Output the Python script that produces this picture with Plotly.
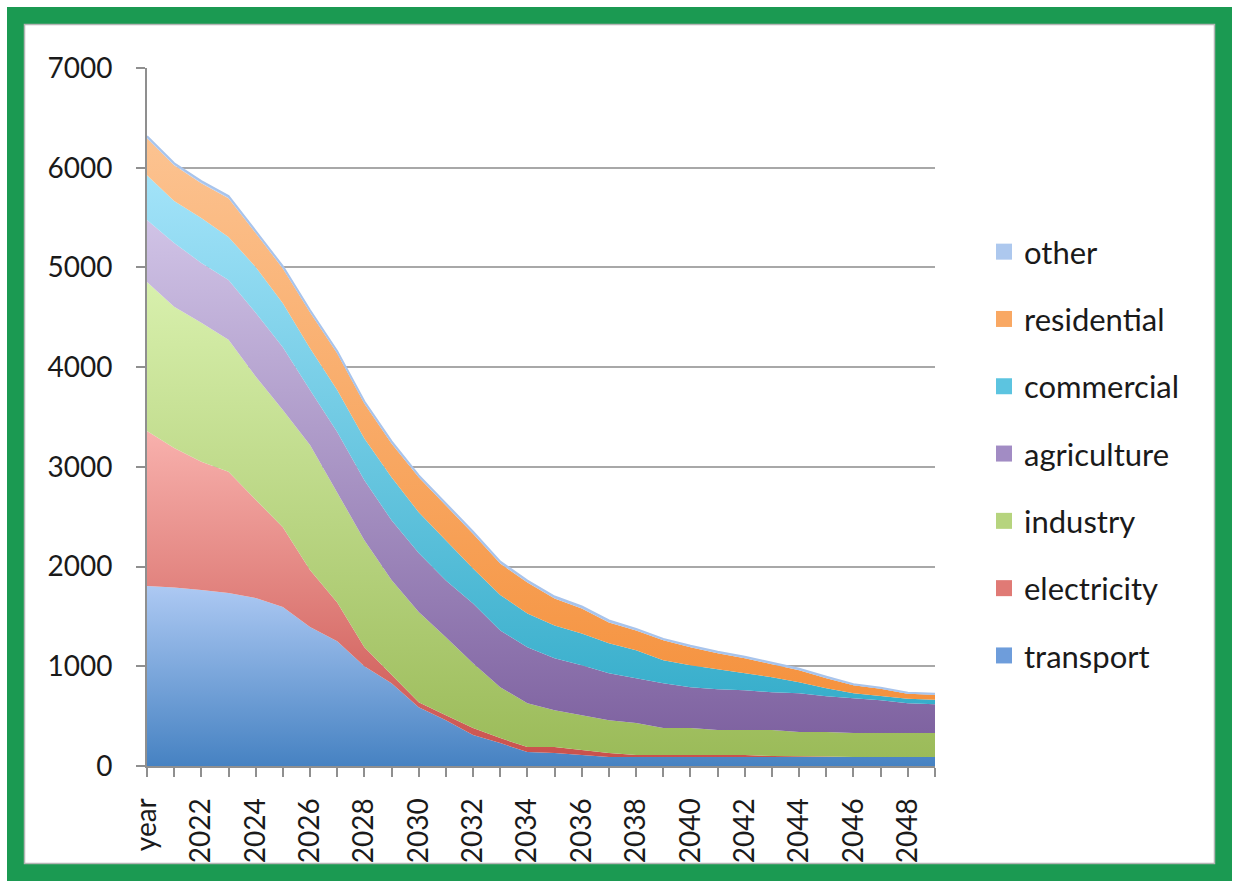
import plotly.graph_objects as go
import numpy as np

categories = ["year", "2021", "2022", "2023", "2024", "2025", "2026", "2027", "2028", "2029",
              "2030", "2031", "2032", "2033", "2034", "2035", "2036", "2037", "2038", "2039",
              "2040", "2041", "2042", "2043", "2044", "2045", "2046", "2047", "2048", "2049"]
tick_text = ["year", "", "2022", "", "2024", "", "2026", "", "2028", "",
             "2030", "", "2032", "", "2034", "", "2036", "", "2038", "",
             "2040", "", "2042", "", "2044", "", "2046", "", "2048", ""]

transport = [1805, 1790, 1765, 1735, 1685, 1595, 1395, 1250, 1000, 830, 590, 460, 310, 230, 140,
             130, 110, 90, 90, 90, 90, 90, 90, 90, 90, 90, 90, 90, 90, 90]
electricity = [1555, 1400, 1285, 1215, 985, 800, 570, 390, 190, 80, 50, 50, 70, 50, 50,
               60, 50, 40, 20, 20, 20, 25, 20, 10, 10, 5, 0, 0, 0, 0]
industry = [1495, 1415, 1395, 1325, 1235, 1175, 1255, 1100, 1075, 955, 905, 780, 650, 510, 440,
            370, 350, 330, 320, 270, 270, 245, 250, 260, 240, 245, 240, 240, 240, 240]
agriculture = [620, 640, 600, 600, 640, 630, 550, 610, 600, 600, 590, 570, 600, 570, 560,
               520, 500, 470, 450, 450, 410, 410, 400, 380, 390, 360, 350, 330, 300, 290]
commercial = [450, 420, 450, 430, 460, 440, 420, 420, 420, 430, 410, 400, 350, 355, 340,
              330, 320, 300, 280, 230, 220, 200, 170, 150, 110, 80, 50, 45, 45, 45]
residential = [370, 360, 350, 390, 340, 350, 360, 370, 350, 340, 350, 350, 350, 315, 310,
               270, 250, 210, 200, 200, 180, 160, 150, 130, 120, 100, 80, 70, 50, 50]
other = [20, 20, 20, 20, 20, 20, 20, 20, 20, 20, 20, 20, 20, 20, 20,
         20, 20, 20, 15, 15, 15, 15, 15, 15, 15, 15, 10, 10, 10, 10]

series_names = ["transport", "electricity", "industry", "agriculture", "commercial", "residential", "other"]
series_values = [transport, electricity, industry, agriculture, commercial, residential, other]
light_colors = ["#adc9f3", "#f8b1ad", "#d8f0ad", "#d0c3e6", "#a3e3f9", "#fcc391", "#b7cff2"]
dark_colors = ["#4682c2", "#c9514c", "#9bbb59", "#7f63a1", "#37aecb", "#f5923e", "#a8c4ec"]
legend_colors = ["#6e9ddb", "#e07a75", "#b6d47e", "#a28cc4", "#5cc4e0", "#f9a863", "#adc8ee"]

W, H = 1239, 888
L, R, T, B = 147, 935, 68, 766


def px_x(p):
    return (p - L) / (R - L)


def px_y(p):
    return (B - p) / (B - T)


fig = go.Figure()
cum = np.zeros(len(categories))
for name, vals, lc, dc in zip(series_names, series_values, light_colors, dark_colors):
    v = np.array(vals, dtype=float)
    lower = cum.copy()
    cum = cum + v
    is_other = name == "other"
    fig.add_trace(go.Scatter(
        x=categories, y=vals, stackgroup="one", mode="lines", name=name,
        line=dict(width=2 if is_other else 0, color=dc),
        fillgradient=dict(type="vertical", colorscale=[[0, dc], [1, lc]],
                          start=float(lower.min()), stop=float(cum.max())),
        showlegend=False, hoverinfo="skip",
    ))

for name, col in reversed(list(zip(series_names, legend_colors))):
    fig.add_trace(go.Scatter(
        x=[None], y=[None], mode="markers", name=name, legendgroup=name,
        marker=dict(symbol="square", size=16, color=col, line=dict(width=0)),
        showlegend=True,
    ))

font_family = "Lato, 'Open Sans', sans-serif"
axis_gray = "#8f8f8f"

shapes = [
    dict(type="rect", xref="paper", yref="paper",
         x0=px_x(15.5), x1=px_x(W - 15.5), y0=px_y(15.5), y1=px_y(H - 15.5),
         line=dict(color="#1b9a52", width=17), fillcolor="rgba(0,0,0,0)", layer="above"),
    dict(type="rect", xref="paper", yref="paper",
         x0=px_x(24.5), x1=px_x(W - 24.5), y0=px_y(24.5), y1=px_y(H - 24.5),
         line=dict(color="#b5b5b5", width=1.5), fillcolor="rgba(0,0,0,0)", layer="above"),
]

fig.update_layout(
    width=W, height=H,
    margin=dict(l=L, r=W - R, t=T, b=H - B, pad=0),
    paper_bgcolor="white", plot_bgcolor="white",
    font=dict(family=font_family, size=28, color="#1a1a1a"),
    showlegend=True,
    legend=dict(x=px_x(984), xanchor="left", y=px_y(454), yanchor="middle",
                font=dict(size=31, family=font_family, color="#1a1a1a"),
                bgcolor="rgba(0,0,0,0)", itemwidth=30, tracegroupgap=24,
                traceorder="grouped"),
    xaxis=dict(type="category", categoryorder="array", categoryarray=categories,
               range=[0, len(categories) - 1], tickmode="array", tickvals=categories,
               ticktext=tick_text, tickangle=-90, ticks="outside", ticklen=9,
               tickwidth=1.5, tickcolor=axis_gray, showline=True, linecolor=axis_gray,
               linewidth=2, showgrid=False, zeroline=False, ticklabelstandoff=10,
               tickfont=dict(size=28, family=font_family, color="#1a1a1a")),
    yaxis=dict(range=[0, 7000], tickmode="linear", tick0=0, dtick=1000, ticks="outside",
               ticklen=9, tickwidth=1.5, tickcolor=axis_gray, showline=True,
               linecolor=axis_gray, linewidth=2, showgrid=True, gridcolor="#a8a8a8",
               gridwidth=2, zeroline=False, ticklabelstandoff=18,
               tickfont=dict(size=28, family=font_family, color="#1a1a1a")),
    shapes=shapes,
)

fig.write_html("out.html", config={"displayModeBar": False},
               post_script="document.body.style.margin='0';document.body.style.overflow='hidden';")
